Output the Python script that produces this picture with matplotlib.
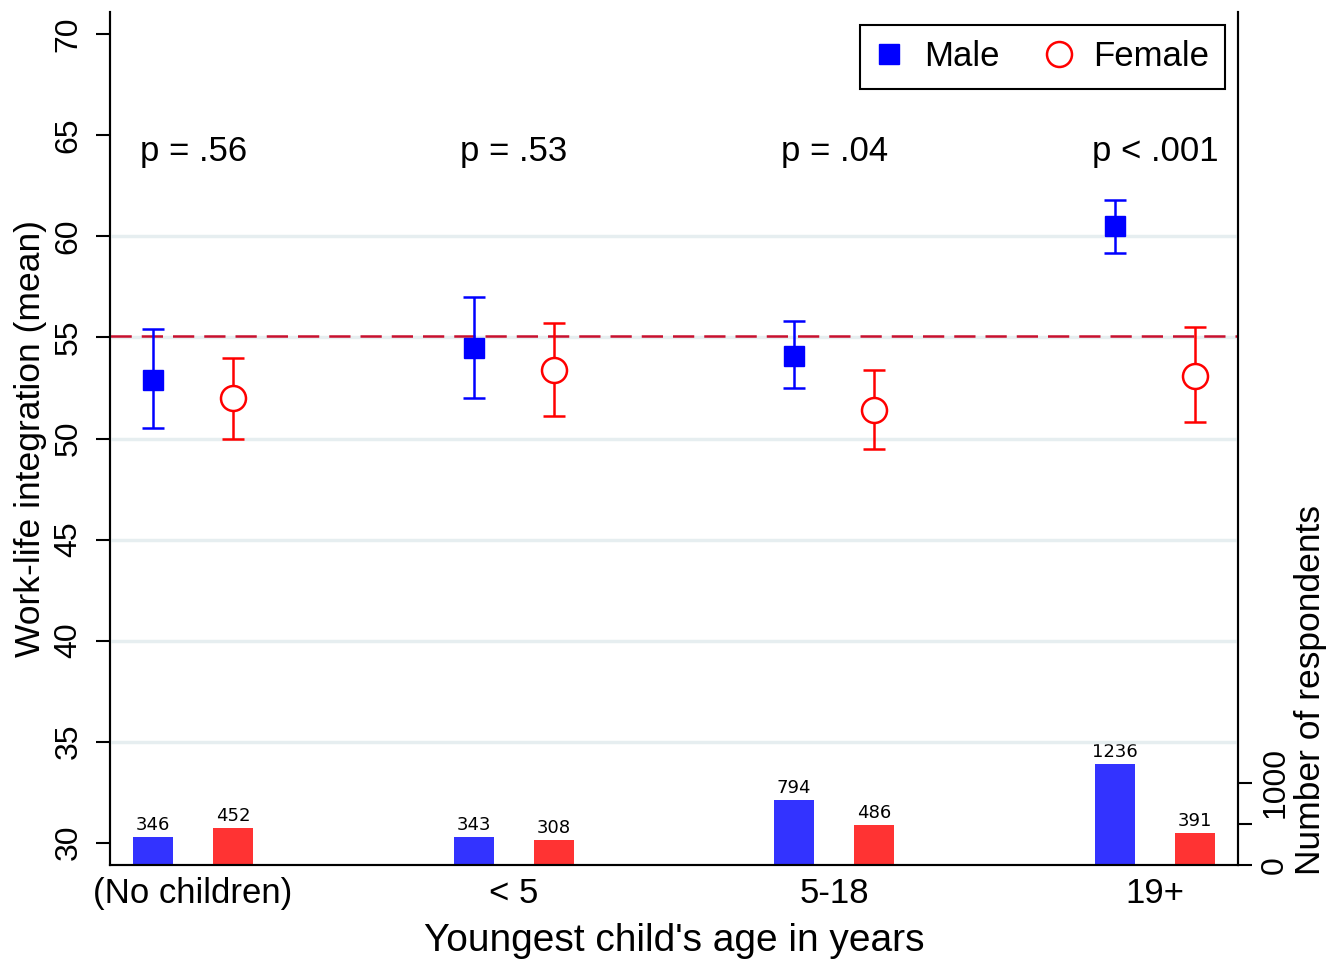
import numpy as np
import matplotlib
matplotlib.use("Agg")
import matplotlib.pyplot as plt
from matplotlib.lines import Line2D

plt.rcParams['font.family'] = ['Liberation Sans', 'DejaVu Sans']

#%% data
groups = ["(No children)", "< 5", "5-18", "19+"]
p_labels = ["p = .56", "p = .53", "p = .04", "p < .001"]

male_mean = [52.9, 54.5, 54.1, 60.5]
male_lo = [50.5, 52.0, 52.5, 59.2]
male_hi = [55.4, 57.0, 55.8, 61.8]

female_mean = [52.0, 53.4, 51.4, 53.1]
female_lo = [50.0, 51.1, 49.5, 50.8]
female_hi = [54.0, 55.7, 53.4, 55.5]

male_n = [346, 343, 794, 1236]
female_n = [452, 308, 486, 391]

overall_mean = 55.05
grid_vals = [35, 40, 45, 50, 55, 60]

#%% figure
fig = plt.figure(figsize=(13.32, 9.63), dpi=100)
ax = fig.add_axes([0.0826, 0.1018, 0.8468, 0.8857])
ax2 = ax.twinx()
ax.set_zorder(ax2.get_zorder() + 1)
ax.patch.set_visible(False)

x = np.arange(len(groups))
off = 0.125

for g in grid_vals:
    ax.axhline(g, color="#e6eef0", lw=2.5, zorder=0)

ax.axhline(overall_mean, color="#c8102e", lw=1.8, dashes=(8.5, 4), zorder=1)

m = np.array(male_mean)
f = np.array(female_mean)
ax.errorbar(x - off, m, yerr=[m - np.array(male_lo), np.array(male_hi) - m],
            fmt="s", color="#0000ff", ms=14, elinewidth=1.8, capsize=8,
            capthick=1.8, zorder=3)
ax.errorbar(x + off, f, yerr=[f - np.array(female_lo), np.array(female_hi) - f],
            fmt="o", color="#ff0000", mfc="white", mec="#ff0000", ms=18,
            mew=1.8, elinewidth=1.8, capsize=8, capthick=1.8, zorder=3)

for xi, p in zip(x, p_labels):
    ax.text(xi, 64.2, p, ha="center", va="center", fontsize=25)

# respondent counts on the secondary axis
bw = 0.125
b1 = ax2.bar(x - off, male_n, width=bw, color="#3333ff", zorder=2)
b2 = ax2.bar(x + off, female_n, width=bw, color="#ff3333", zorder=2)
for bars, vals in [(b1, male_n), (b2, female_n)]:
    for b, v in zip(bars, vals):
        ax2.annotate(str(v), (b.get_x() + b.get_width() / 2, v),
                     xytext=(0, 2), textcoords="offset points",
                     ha="center", va="bottom", fontsize=13,
                     family="DejaVu Sans")

ax.set_xlim(-0.259, 3.259)
ax.set_ylim(28.9, 71.1)
ax2.set_ylim(0, 10400)

ax.set_yticks([30, 35, 40, 45, 50, 55, 60, 65, 70])
ax.tick_params(axis="y", labelsize=23, length=10, width=1.5, pad=9)
for lab in ax.get_yticklabels():
    lab.set_rotation(90)
    lab.set_va("center")
ax.set_xticks(x)
ax.set_xticklabels(groups)
ax.tick_params(axis="x", labelsize=25, length=0, pad=9)

ax2.set_yticks([0, 500, 1000])
ax2.set_yticklabels(["0", "", "1000"])
ax2.tick_params(axis="y", labelsize=23, length=10, width=1.5, pad=6)
for lab in ax2.get_yticklabels():
    lab.set_rotation(90)
    lab.set_va("center")

for a in (ax, ax2):
    a.spines["top"].set_visible(False)
    for s in ("left", "right", "bottom"):
        a.spines[s].set_linewidth(1.5)

ax.set_xlabel("Youngest child's age in years", fontsize=28, labelpad=9)
ax.set_ylabel("Work-life integration (mean)", fontsize=25.5, labelpad=5)
fig.text(0.9835, 0.2835, "Number of respondents", rotation=90,
         ha="center", va="center", fontsize=25.5)

handles = [Line2D([], [], ls="none", marker="s", color="#0000ff", ms=14),
           Line2D([], [], ls="none", marker="o", mfc="white", mec="#ff0000",
                  ms=18, mew=1.8)]
leg = ax.legend(handles, ["Male", "Female"], ncol=2, loc="upper right",
                bbox_to_anchor=(0.9885, 0.985), borderaxespad=0,
                fontsize=25, fancybox=False, edgecolor="black",
                framealpha=1, handlelength=0.8, handletextpad=0.6,
                columnspacing=1.3, borderpad=0.45)
leg.get_frame().set_linewidth(1.5)

fig.savefig("out.png", dpi=100)
